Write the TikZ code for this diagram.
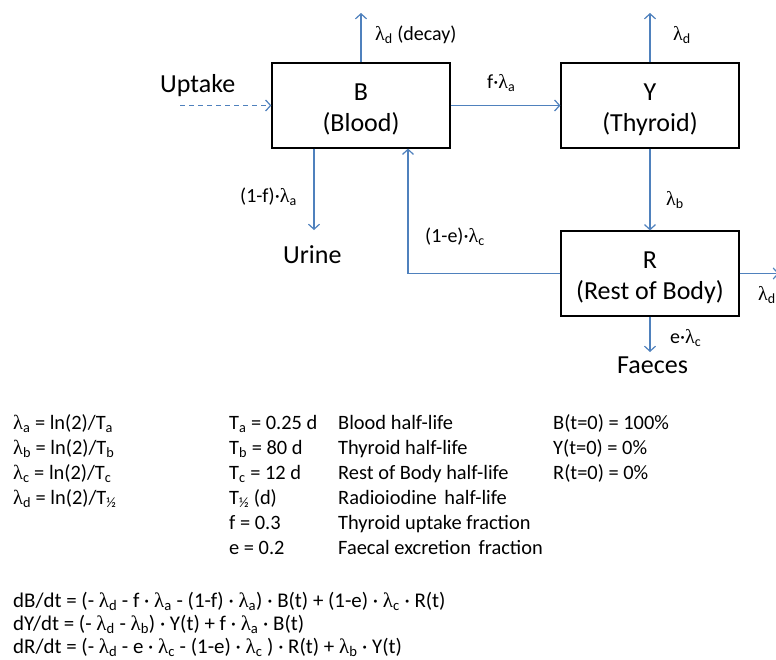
\documentclass[tikz,border=0pt]{standalone}
\usepackage{fontspec}
\setmainfont{Carlito}
\newfontfamily\grk{Liberation Serif}
\usetikzlibrary{arrows.meta}
\definecolor{arr}{RGB}{79,129,189}
\newcommand\sbs[1]{\textsubscript{#1}}
\newcommand\lam{{\grk λ}}
\begin{document}
\begin{tikzpicture}[x=1pt,y=-1pt,
  box/.style={draw=black, line width=1.2pt, minimum width=178pt, minimum height=85pt, inner sep=0pt},
  boxtxt/.style={align=center, inner sep=0pt, font=\fontsize{26}{31}\selectfont},
  flow/.style={draw=arr, line width=1.3pt, -{Straight Barb[length=5pt,width=11pt,line width=1.2pt]}},
  big/.style={font=\fontsize{26}{32}\selectfont, inner sep=0pt, anchor=base west},
  lbl/.style={font=\fontsize{20}{24}\selectfont, inner sep=0pt, anchor=base west},
  txt/.style={font=\fontsize{20.4}{25}\selectfont, inner sep=0pt, anchor=base west},
  eqn/.style={font=\fontsize{20.9}{25}\selectfont, inner sep=0pt, anchor=base west}]
\useasboundingbox (0,0) rectangle (776,659);
\fill[white] (0,0) rectangle (776,659);

\node[box] (B) at (361,105.5) {};
\node[box] (Y) at (650,105.5) {};
\node[box] (R) at (650,273.5) {};
\node[boxtxt] (Bt) at ([yshift=-4pt]B.center) {B\\(Blood)};
\node[boxtxt] (Yt) at ([yshift=-4pt]Y.center) {Y\\(Thyroid)};
\node[boxtxt] (Rt) at ([yshift=-4pt]R.center) {R\\(Rest of Body)};

\coordinate (up) at (180,105.5);
\coordinate (Bd) at (361,13);
\coordinate (Yd) at (650,13);
\coordinate (ur) at (314,230);
\coordinate (fa) at (650,352);
\coordinate (Rd) at (779,273.5);

\draw[flow, dash pattern=on 5pt off 4pt] (up) -- (B.west);
\draw[flow] (B.north) -- (Bd);
\draw[flow] (Y.north) -- (Yd);
\draw[flow] (B.east) -- (Y.west);
\draw[flow] ([xshift=-47pt]B.south) -- (ur);
\draw[flow] (R.west) -| ([xshift=47pt]B.south);
\draw[flow] (Y.south) -- (R.north);
\draw[flow] (R.east) -- (Rd);
\draw[flow] (R.south) -- (fa);

\node[big] (upt) at (160,92) {Uptake};
\node[lbl] (lBd) at (375,40) {\lam\sbs{d} (decay)};
\node[lbl] (lYd) at (673,40) {\lam\sbs{d}};
\node[lbl] (lfa) at (487,88) {f·\lam\sbs{a}};
\node[lbl] (l1f) at (240,202) {(1-f)·\lam\sbs{a}};
\node[big] (urine) at (283,263) {Urine};
\node[lbl] (l1e) at (425,242) {(1-e)·\lam\sbs{c}};
\node[lbl] (lb) at (666,205) {\lam\sbs{b}};
\node[lbl] (lRd) at (758,300) {\lam\sbs{d}};
\node[lbl] (lec) at (670,343) {e·\lam\sbs{c}};
\node[big] (fae) at (617,373) {Faeces};

\node[txt] (a1) at (13,429) {\lam\sbs{a} = ln(2)/T\sbs{a}};
\node[txt] (a2) at (13,454) {\lam\sbs{b} = ln(2)/T\sbs{b}};
\node[txt] (a3) at (13,479) {\lam\sbs{c} = ln(2)/T\sbs{c}};
\node[txt] (a4) at (13,504) {\lam\sbs{d} = ln(2)/T\sbs{½}};

\node[txt] (b1) at (229,429) {T\sbs{a} = 0.25 d};
\node[txt] (b2) at (229,454) {T\sbs{b} = 80 d};
\node[txt] (b3) at (229,479) {T\sbs{c} = 12 d};
\node[txt] (b4) at (229,504) {T\sbs{½} (d)};
\node[txt] (b5) at (229,529) {f = 0.3};
\node[txt] (b6) at (229,554) {e = 0.2};

\node[txt] (c1) at (338,429) {Blood half-life};
\node[txt] (c2) at (338,454) {Thyroid half-life};
\node[txt] (c3) at (338,479) {Rest of Body half-life};
\node[txt] (c4) at (338,504) {Radioiodine\hspace{3pt} half-life};
\node[txt] (c5) at (338,529) {Thyroid uptake fraction};
\node[txt] (c6) at (338,554) {Faecal excretion\hspace{3pt} fraction};

\node[txt] (d1) at (553,429) {B(t=0) = 100\%};
\node[txt] (d2) at (553,454) {Y(t=0) = 0\%};
\node[txt] (d3) at (553,479) {R(t=0) = 0\%};

\node[eqn] (e1) at (13,607) {dB/dt = (- \lam\sbs{d} - f · \lam\sbs{a} - (1-f) · \lam\sbs{a}) · B(t) + (1-e) · \lam\sbs{c} · R(t)};
\node[eqn] (e2) at (13,630) {dY/dt = (- \lam\sbs{d} - \lam\sbs{b}) · Y(t) + f · \lam\sbs{a} · B(t)};
\node[eqn] (e3) at (13,653) {dR/dt = (- \lam\sbs{d} - e · \lam\sbs{c} - (1-e) · \lam\sbs{c} ) · R(t) + \lam\sbs{b} · Y(t)};
\end{tikzpicture}
\end{document}
